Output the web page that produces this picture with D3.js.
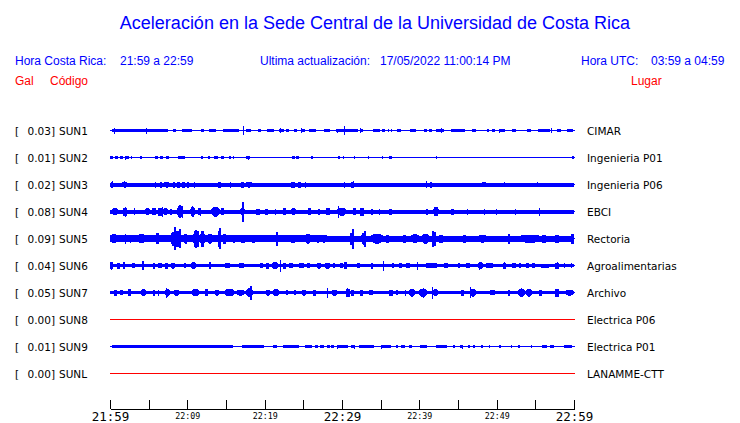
<!DOCTYPE html>
<html><head><meta charset="utf-8">
<script src="https://cdn.jsdelivr.net/npm/d3@7"></script>
<style>body{margin:0;background:#fff}svg{display:block}</style>
</head><body>
<svg id="c" width="740" height="423"></svg>
<script>
// ---------- data ----------
const titleText = "Aceleración en la Sede Central de la Universidad de Costa Rica";
const localLabel = "Hora Costa Rica:", localRange = "21:59 a 22:59";
const updateLabel = "Ultima actualización:", updateValue = "17/05/2022 11:00:14 PM";
const utcLabel = "Hora UTC:", utcRange = "03:59 a 04:59";
const colGal = "Gal", colCode = "Código", colPlace = "Lugar";

const stations = ["SUN1","SUN2","SUN3","SUN4","SUN5","SUN6","SUN7","SUN8","SUN9","SUNL"];
const maxGal   = [0.03, 0.01, 0.02, 0.08, 0.09, 0.04, 0.05, 0.00, 0.01, 0.00];
const places   = ["CIMAR","Ingenieria P01","Ingenieria P06","EBCI","Rectoria","Agroalimentarias","Archivo","Electrica P06","Electrica P01","LANAMME-CTT"];

// time in minutes after 21:59
const tickMinutes = [0,5,10,15,20,25,30,35,40,45,50,55,60];
const tickLabels  = ["21:59","","22:09","","22:19","","22:29","","22:39","","22:49","","22:59"];
const majorTicks  = ["21:59","22:29","22:59"];

// envelope segments [startMin, endMin, halfAmplitude Gal] and spikes [min, halfAmplitude Gal]
const sun1Bursts = [[0,7.7,.011],[8,8.6,.011],[9,10.8,.011],[11.6,12.3,.011],[12.6,13.9,.011],[14.3,17,.011],[17.4,18.3,.011],[19,19.7,.011],[20,21.3,.011],[21.7,22.6,.011],[22.8,23.2,.011],[23.6,24.3,.011],[24.8,25.2,.011],[25.5,26.8,.011],[27.5,28.6,.011],[29,32.3,.011],[32.5,32.7,.011],[33.8,35.1,.011],[35.2,35.5,.011],[35.9,36.1,.011],[36.4,36.5,.011],[37,37.8,.011],[38.7,39.7,.011],[40.6,41,.011],[41.3,41.7,.011],[41.9,43.5,.011],[43.9,46.1,.011],[46.7,47.4,.011],[48.8,49,.011],[49.3,49.9,.011],[50.2,51.2,.011],[52,52.5,.011],[53.8,54.6,.011],[55.1,57.2,.011],[57.7,58.5,.011],[59,60,.011]];
const sun1Spikes = [[0.56,.022],[4.7,.022],[17.2,.034],[22,.019],[24.7,.019],[29.4,.015],[30.3,.034],[32.3,.019],[42.8,.019],[50.3,.015],[57,.019]];

const sun2Bursts = [[0,0.4,.011],[0.65,1.07,.011],[1.3,1.7,.011],[1.9,2.4,.011],[2.7,2.9,.011],[3.9,4.1,.011],[5.8,6.2,.011],[6.5,6.9,.011],[7.1,7.7,.011],[8.7,9.8,.011],[11.8,12,.011],[12.7,12.9,.011],[13.5,14,.011],[14.4,14.7,.011],[15.4,15.6,.011],[15.9,16,.011],[17.6,18.1,.011],[23.5,23.9,.011],[24.1,24.4,.011],[26,26.2,.011],[29.5,29.7,.011],[36.1,36.5,.011],[59.8,60,.011]];
const sun2Spikes = [[2,.015],[17.8,.015],[30.1,.011],[31.6,.011],[33.3,.011],[35.2,.011],[42.2,.011]];

const sun3Bursts = [[0,60,.015],[0.1,0.4,.022],[1.5,2.15,.022],[5.8,6,.022],[6.45,6.75,.022],[7,7.6,.022],[8.2,8.4,.022],[8.7,9,.022],[9.3,9.7,.022],[10,10.2,.022],[10.9,11.05,.022],[14,14.4,.022],[15.5,15.7,.022],[17,17.3,.022],[17.6,18.3,.022],[23.4,23.9,.022],[24.3,24.7,.022],[25.2,25.4,.022],[30.2,30.4,.022],[31.2,31.6,.022],[40.8,41,.022],[41.4,41.6,.022],[48.1,48.6,.019],[50.9,51.1,.019]];
const sun3Spikes = [[0.2,.026],[1.8,.026],[31.4,.026],[40.9,.026],[55.2,.019]];

const sun4Bursts = [[0,60,.015],[0.2,1.08,.026],[1.72,2.15,.03],[4.5,5.2,.026],[5.4,6,.026],[6.24,6.67,.03],[6.88,7.53,.026],[7.74,7.96,.022],[8.7,9.5,.045],[10.3,11,.037],[11.4,11.8,.026],[13.1,14.2,.037],[14.4,14.75,.026],[16.8,17.4,.03],[18.9,19.35,.022],[20,20.4,.022],[22.4,22.8,.026],[23.4,24.1,.026],[25.6,26,.026],[26.9,27.1,.022],[27.96,28.4,.026],[29.4,30.5,.03],[31.4,31.8,.026],[32.3,32.9,.03],[33.8,34,.022],[36.1,36.5,.022],[40.9,41.1,.022],[41.8,42.6,.034],[44.1,44.5,.022]];
const sun4Spikes = [[1.94,.037],[3.14,.026],[6.67,.037],[8.9,.05],[9.3,.045],[10.6,.04],[11.6,.03],[13.5,.037],[17.03,.075],[21.3,.022],[29.46,.045],[30.1,.03],[34.8,.022],[42,.034],[46.2,.022],[48.4,.022],[49.9,.022],[52.4,.022],[55.5,.03]];

const sun5Bursts = [[0,60,.022],[0,28,.026],[0,1.08,.034],[3.66,4.5,.034],[5.8,6.45,.041],[7.74,8.6,.052],[8.73,9.03,.06],[9.46,10.1,.037],[10.75,11.4,.06],[11.6,12.26,.06],[12.5,13.3,.037],[14,14.3,.06],[14.6,15.05,.037],[15.7,16.3,.03],[17,17.4,.03],[18.3,18.7,.03],[23,24.3,.03],[25.2,26,.037],[26.45,27.3,.03],[27.6,27.8,.03],[31,31.6,.045],[32.5,33.1,.045],[33.8,35.3,.037],[35.7,36.1,.03],[37.9,38.3,.03],[38.9,40,.034],[40.4,41.3,.037],[41.6,42.2,.052],[42.6,43,.03],[45.6,46,.03],[47.7,48.6,.03],[51.5,51.7,.037],[53.1,55.5,.03],[55.9,56.4,.03],[57.6,58,.03],[59.6,60,.037]];
const sun5Spikes = [[1.94,.037],[2.58,.03],[8.3,.088],[8.5,.06],[8.9,.07],[10.97,.068],[11.2,.06],[11.9,.06],[14.1,.079],[21.5,.052],[31.3,.075],[32.8,.06],[41.7,.06],[59.9,.03]];

const sun6Bursts = [[0,60,.012],[0,0.43,.026],[0.86,1.29,.022],[1.72,2,.026],[2.8,3.2,.019],[4.1,4.3,.034],[5.6,5.8,.022],[6.24,6.67,.019],[7.1,7.5,.022],[7.74,8.4,.022],[9.6,9.8,.019],[10.3,11.2,.026],[12.8,13,.026],[14.8,15.7,.019],[16.6,17.4,.019],[19.4,19.8,.019],[20.2,20.6,.022],[20.9,21.7,.026],[22.4,22.8,.022],[23.2,23.7,.019],[24.3,25.2,.019],[25.4,26,.019],[26.7,27.3,.022],[27.7,28.6,.022],[28.9,29.1,.019],[29.7,30.1,.019],[30.3,30.7,.026],[32,32.3,.019],[33.8,34,.022],[36.5,36.7,.019],[37.2,37.9,.019],[38.1,38.9,.019],[40.6,42.6,.019],[43,43.9,.019],[44.95,45.2,.019],[46,46.5,.019],[47.5,48.4,.026],[48.4,49.7,.019],[50.8,51.2,.022],[52,52.5,.019],[52.9,53.1,.019],[53.8,54.2,.019],[54.6,55,.019],[55.7,56.8,.015],[57.6,58.1,.022],[58.7,58.9,.019],[59.6,59.8,.019]];
const sun6Spikes = [[0.13,.03],[4.3,.034],[12.9,.026],[22,.045],[30.4,.026],[35.3,.037],[39.7,.03],[47.7,.03],[51,.026],[57.8,.026]];

const sun7Bursts = [[0,60,.013],[0.56,0.86,.022],[1.29,1.72,.019],[2.37,2.7,.026],[3.87,4.73,.026],[5.6,5.8,.022],[6.2,6.3,.022],[7.1,7.74,.03],[8.17,9.03,.022],[10.45,11.6,.026],[12.26,12.7,.026],[13.5,14.2,.022],[14.8,16.1,.026],[16.3,17.4,.022],[17.6,18.5,.034],[20,20.65,.022],[20.9,22,.026],[22.8,23,.019],[23.8,24,.019],[24.7,25.4,.022],[26.2,26.7,.022],[28.6,29.5,.022],[30.5,30.97,.03],[31.2,31.6,.022],[32.3,32.7,.022],[33.5,34,.019],[36.1,36.6,.022],[37,37.2,.019],[38.1,38.3,.022],[38.7,39.4,.03],[39.8,41.1,.03],[41.7,42.6,.026],[45.4,45.8,.022],[46.5,47.3,.03],[49,49.9,.019],[51.5,51.7,.022],[52.7,53.6,.03],[53.8,54.6,.03],[55.5,55.9,.022],[57.6,58.1,.03],[58.9,60,.022]];
const sun7Spikes = [[7.3,.037],[18.1,.052],[28,.037],[30.6,.034],[40.5,.037],[41.6,.045],[46.6,.041],[53.2,.034]];

const sun8Bursts = [], sun8Spikes = [];

const sun9Bursts = [[0,16.1,.011],[16.77,20.2,.01],[20.9,21.7,.01],[22.15,24.7,.01],[24.9,26.2,.01],[26.45,26.9,.01],[27.1,27.7,.01],[28.1,28.4,.01],[28.6,29,.01],[29.2,31,.01],[31.2,31.6,.01],[32,34.4,.01],[34.8,36.6,.01],[37,37.2,.01],[37.6,38.1,.01],[38.7,39.1,.01],[39.8,41.2,.01],[41.9,43.9,.01],[44.4,44.6,.01],[45.3,45.5,.01],[46.3,46.5,.01],[47,47.2,.01],[48,48.2,.01],[49,49.2,.01],[50.3,50.5,.01],[51.8,52,.01],[52.8,53,.01],[54.4,54.6,.01],[55.7,56.6,.01],[56.8,57.6,.01],[58.4,60,.01]];
const sun9Spikes = [[29.3,.015],[31.6,.015],[35,.015],[45.5,.015]];

const sunLBursts = [], sunLSpikes = [];

const allBursts = [sun1Bursts,sun2Bursts,sun3Bursts,sun4Bursts,sun5Bursts,sun6Bursts,sun7Bursts,sun8Bursts,sun9Bursts,sunLBursts];
const allSpikes = [sun1Spikes,sun2Spikes,sun3Spikes,sun4Spikes,sun5Spikes,sun6Spikes,sun7Spikes,sun8Spikes,sun9Spikes,sunLSpikes];

// ---------- drawing ----------
const svg = d3.select("#c");
svg.append("rect").attr("width",740).attr("height",423).attr("fill","#fff");

const BLUE = "#0000ff", RED = "#ff0000";
const sans = "'Liberation Sans', Arial, Helvetica, sans-serif";
const dejavu = "'DejaVu Sans', sans-serif";
const mono = "'DejaVu Sans Mono', monospace";

function txt(s, x, y, size, fill, family, anchor){
  return svg.append("text").attr("x",x).attr("y",y).attr("font-size",size)
    .attr("font-family",family||sans).attr("fill",fill).attr("text-anchor",anchor||"start").text(s);
}
txt(titleText, 375, 29, 18, BLUE, sans, "middle");
txt(localLabel, 15, 65, 12, BLUE);
txt(localRange, 120, 65, 12, BLUE);
txt(updateLabel, 260, 65, 12, BLUE);
txt(updateValue, 380, 65, 12, BLUE);
txt(utcLabel, 581, 65, 12, BLUE);
txt(utcRange, 651, 65, 12, BLUE);
txt(colGal, 15, 85, 12, RED);
txt(colCode, 50, 85, 12, RED);
txt(colPlace, 631, 85, 12, RED);

const x = d3.scaleLinear().domain([0,60]).range([110,574]);
const y = d3.scalePoint().domain(stations).range([130.5,373.5]);
const amp = d3.scaleLinear().domain([0,0.09]).range([0,12]);
const half = a => Math.max(0.5, Math.round(amp(a)*2)/2);

stations.forEach((s,i)=>{
  const cy = y(s);
  const col = maxGal[i] > 0 ? BLUE : RED;
  const g = svg.append("g");
  // labels
  const lab = (t,xx,anchor)=>g.append("text").attr("x",xx).attr("y",cy+4).attr("font-size",10.5)
      .attr("font-family",dejavu).attr("fill","#000").attr("text-anchor",anchor||"start").text(t);
  lab("[",15); lab(d3.format(".2f")(maxGal[i])+"]",55,"end"); lab(s,59); lab(places[i],587);
  // baseline
  g.append("line").attr("x1",x(0)).attr("x2",x(60)+1).attr("y1",cy).attr("y2",cy)
    .attr("stroke",col).attr("stroke-width",1).attr("shape-rendering","crispEdges");
  // continuous band (segment spanning the whole hour) and bursts
  const segs = allBursts[i];
  const full = segs.find(d=>d[0]===0 && d[1]===60);
  const baseH = full ? half(full[2]) : 0.5;
  segs.forEach(d=>{
    const x0 = Math.round(x(d[0])), x1 = Math.max(x0+1, Math.round(x(d[1])));
    const h = half(d[2]);
    const w = x1 - x0;
    if (d === full || h <= baseH + 0.5 || w < 5) {
      g.append("rect").attr("x",x0).attr("width",w)
        .attr("y",Math.round(cy-h)).attr("height",Math.round(cy+h)-Math.round(cy-h))
        .attr("fill",col).attr("shape-rendering","crispEdges");
    } else {
      // spindle-shaped burst envelope
      const r = Math.min(w*0.3, 4);
      const pts = [[x0,cy-baseH],[x0+r,cy-h],[x1-r,cy-h],[x1,cy-baseH],[x1,cy+baseH],[x1-r,cy+h],[x0+r,cy+h],[x0,cy+baseH]];
      g.append("path").attr("d",d3.line()(pts)+"Z").attr("fill",col).attr("shape-rendering","crispEdges");
    }
  });
  // spikes
  g.selectAll("rect.s").data(allSpikes[i]).join("rect").attr("class","s")
    .attr("x",d=>Math.round(x(d[0])))
    .attr("width",d=>amp(d[1])>6?2:1)
    .attr("y",d=>Math.round(cy-half(d[1])))
    .attr("height",d=>Math.round(cy+half(d[1]))-Math.round(cy-half(d[1])))
    .attr("fill",col).attr("shape-rendering","crispEdges");
});

// time axis
const axis = d3.axisBottom(x).tickValues(tickMinutes).tickSizeInner(-9).tickSizeOuter(0)
  .tickFormat((d,i)=>tickLabels[i]);
const ag = svg.append("g").attr("transform","translate(0,409)").call(axis);
ag.select(".domain").attr("stroke","#000").attr("shape-rendering","crispEdges");
ag.selectAll(".tick line").attr("stroke","#000").attr("shape-rendering","crispEdges");
ag.selectAll(".tick text").each(function(d,i){
  const t = d3.select(this);
  const major = majorTicks.includes(tickLabels[i]);
  t.attr("dy",null).attr("fill","#000").attr("font-family",mono)
   .attr("font-size", major?12.5:8.3).attr("y", major?12:10);
});
</script>
</body></html>
